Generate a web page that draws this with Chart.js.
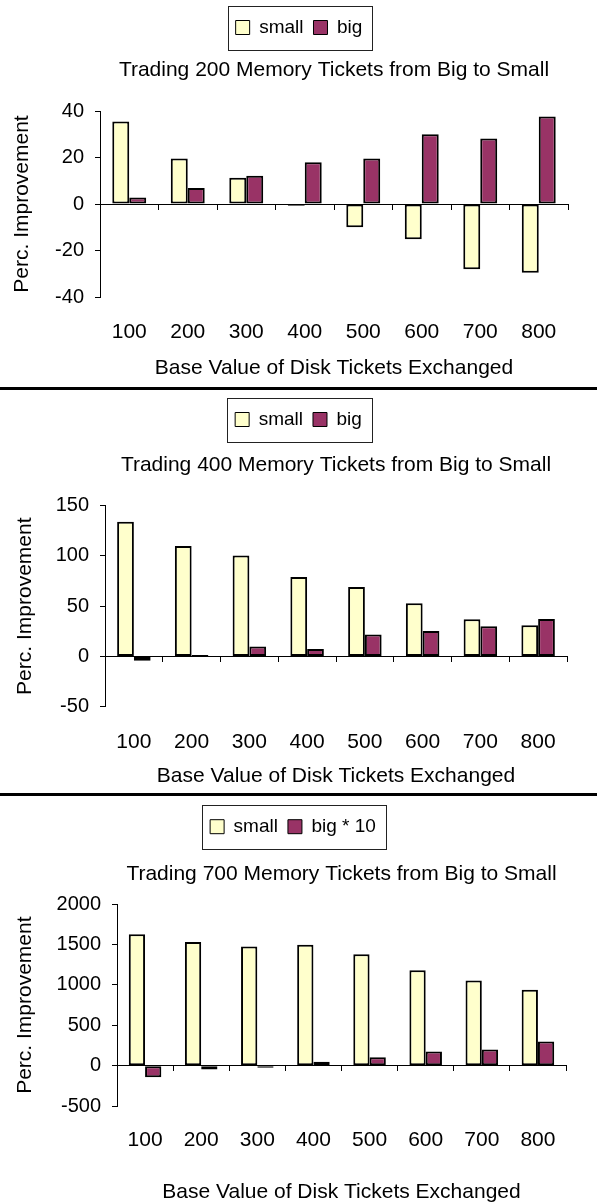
<!DOCTYPE html>
<html>
<head>
<meta charset="utf-8">
<title>Trading Memory Tickets</title>
<script src="https://cdn.jsdelivr.net/npm/chart.js@4.4.1/dist/chart.umd.min.js"></script>
<style>
  body { margin: 0; background: #fff; }
  #page { position: relative; width: 597px; height: 1202px; }
  #page canvas, .rule { position: absolute; left: 0; }
  .rule { width: 597px; height: 3px; background: #000; }
</style>
</head>
<body>
<div id="page">
  <canvas id="c200" width="597" height="387" style="top:0"></canvas>
  <div class="rule" style="top:387px"></div>
  <canvas id="c400" width="597" height="397" style="top:396px"></canvas>
  <div class="rule" style="top:793px"></div>
  <canvas id="c700" width="597" height="405" style="top:797px"></canvas>
</div>
<script>
// base value of disk tickets exchanged
const diskTickets = ["100", "200", "300", "400", "500", "600", "700", "800"];

// percent improvement, 200 memory tickets traded
const small200 = [35.5, 19.6, 11.3, -0.8, -10, -15.2, -28.1, -29.6];
const big200 = [2.8, 6.9, 12.1, 18, 19.6, 30, 28.2, 37.6];

// 400 memory tickets traded
const small400 = [134, 110, 100.5, 79, 69, 53, 37, 31];
const big400 = [-4.3, 1.5, 9.9, 7.5, 21.8, 25.3, 30, 37.2];

// 700 memory tickets traded (big scaled by 10)
const small700 = [1630, 1532, 1478, 1500, 1380, 1183, 1055, 940];
const big700x10 = [-143, -49, -25, 49, 103, 177, 201, 300];

// y axis: min, max, step
const yAxis200 = [-40, 40, 20];
const yAxis400 = [-50, 150, 50];
const yAxis700 = [-500, 2000, 500];

Chart.defaults.font.family = "'Liberation Sans', Arial, sans-serif";
Chart.defaults.color = "#000";

const SMALL_FILL = "#FFFFCC";
const BIG_FILL = "#993366";

// nudge the legend sideways, then frame its items
const legendFrame = {
  id: "legendFrame",
  afterLayout(chart, args, opts) {
    const lg = chart.legend;
    if (!lg) return;
    lg.left += opts.shift || 0;
    lg.right += opts.shift || 0;
  },
  afterDraw(chart) {
    const boxes = chart.legend && chart.legend.legendHitBoxes;
    if (!boxes || !boxes.length) return;
    const first = boxes[0];
    const last = boxes[boxes.length - 1];
    const cy = first.top + first.height / 2;
    const x0 = Math.round(first.left - 8) + 0.5;
    const x1 = Math.round(last.left + last.width + 10) + 0.5;
    const y0 = Math.round(cy - 22) + 0.5;
    const y1 = Math.round(cy + 22) + 0.5;
    const ctx = chart.ctx;
    ctx.save();
    ctx.lineWidth = 1;
    ctx.strokeStyle = "#222";
    ctx.strokeRect(x0, y0, x1 - x0, y1 - y0);
    ctx.restore();
  },
};

function drawPanel(id, cfg) {
  const [yMin, yMax, yStep] = cfg.yAxis;
  const ctx = document.getElementById(id).getContext("2d");
  return new Chart(ctx, {
    type: "bar",
    data: {
      labels: diskTickets,
      datasets: [
        {
          label: "small",
          data: cfg.small,
          backgroundColor: SMALL_FILL,
          borderColor: "#000",
          borderWidth: 2,
          borderSkipped: false,
        },
        {
          label: cfg.bigLabel,
          data: cfg.big,
          backgroundColor: BIG_FILL,
          borderColor: "#000",
          borderWidth: 2,
          borderSkipped: false,
        },
      ],
    },
    options: {
      responsive: false,
      animation: false,
      devicePixelRatio: 1,
      datasets: { bar: { categoryPercentage: 0.58, barPercentage: 1.0 } },
      layout: { padding: { top: cfg.padTop, right: cfg.padRight, left: 0, bottom: 0 } },
      plugins: {
        tooltip: { enabled: false },
        legendFrame: { shift: cfg.legendShift },
        legend: {
          position: "top",
          weight: 3000,
          labels: {
            boxWidth: 14,
            boxHeight: 14,
            padding: 10,
            font: { size: 19 },
            generateLabels: (chart) =>
              Chart.defaults.plugins.legend.labels
                .generateLabels(chart)
                .map((item) => ({ ...item, lineWidth: 1 })),
          },
        },
        title: {
          display: true,
          text: cfg.title,
          fullSize: false,
          weight: 2000,
          font: { size: 21, weight: "normal" },
          padding: cfg.titlePad,
        },
      },
      scales: {
        x: {
          type: "category",
          offset: true,
          grid: { display: false, offset: true },
          border: { display: false },
          ticks: { font: { size: 21 }, padding: cfg.xTickPad, maxRotation: 0, autoSkip: false },
          title: {
            display: true,
            text: "Base Value of Disk Tickets Exchanged",
            font: { size: 21 },
            padding: { top: 0, bottom: cfg.xTitlePad },
          },
          afterFit: (s) => { s.height = cfg.xHeight; },
        },
        // zero line with category tick marks
        x2: {
          type: "category",
          axis: "x",
          labels: diskTickets,
          offset: true,
          position: { y: 0 },
          grid: { offset: true, drawOnChartArea: false, drawTicks: true, tickLength: 5, color: "#000" },
          border: { display: true, color: "#000", width: 1 },
          ticks: { display: false },
        },
        y: {
          min: yMin,
          max: yMax,
          ticks: {
            stepSize: yStep,
            font: { size: 20 },
            padding: 11,
            callback: (v) => String(v),
          },
          grid: { drawOnChartArea: false, drawTicks: true, tickLength: 5, color: "#000" },
          border: { display: true, color: "#000", width: 1 },
          title: {
            display: true,
            text: "Perc. Improvement",
            font: { size: 21 },
            padding: { top: cfg.yTitlePad, bottom: 0 },
          },
          afterFit: (s) => { s.width = cfg.yWidth; },
        },
      },
    },
    plugins: [legendFrame],
  });
}

drawPanel("c200", {
  title: "Trading 200 Memory Tickets from Big to Small",
  small: small200, big: big200, bigLabel: "big", yAxis: yAxis200,
  padTop: 8, padRight: 29, titlePad: { top: 10.4, bottom: 28.4 }, legendShift: 15,
  yWidth: 100, xHeight: 90, xTickPad: 15, xTitlePad: 6.5, yTitlePad: 9.5,
});

drawPanel("c400", {
  title: "Trading 400 Memory Tickets from Big to Small",
  small: small400, big: big400, bigLabel: "big", yAxis: yAxis400,
  padTop: 4, padRight: 30, titlePad: { top: 13.4, bottom: 28.1 }, legendShift: 15,
  yWidth: 105, xHeight: 86.3, xTickPad: 14.5, xTitlePad: 4, yTitlePad: 12.4,
});

drawPanel("c700", {
  title: "Trading 700 Memory Tickets from Big to Small",
  small: small700, big: big700x10, bigLabel: "big * 10", yAxis: yAxis700,
  padTop: 10.2, padRight: 31, titlePad: { top: 15.2, bottom: 17.7 }, legendShift: 10,
  yWidth: 117, xHeight: 96, xTickPad: 14, xTitlePad: -3, yTitlePad: 12.4,
});
</script>
</body>
</html>
